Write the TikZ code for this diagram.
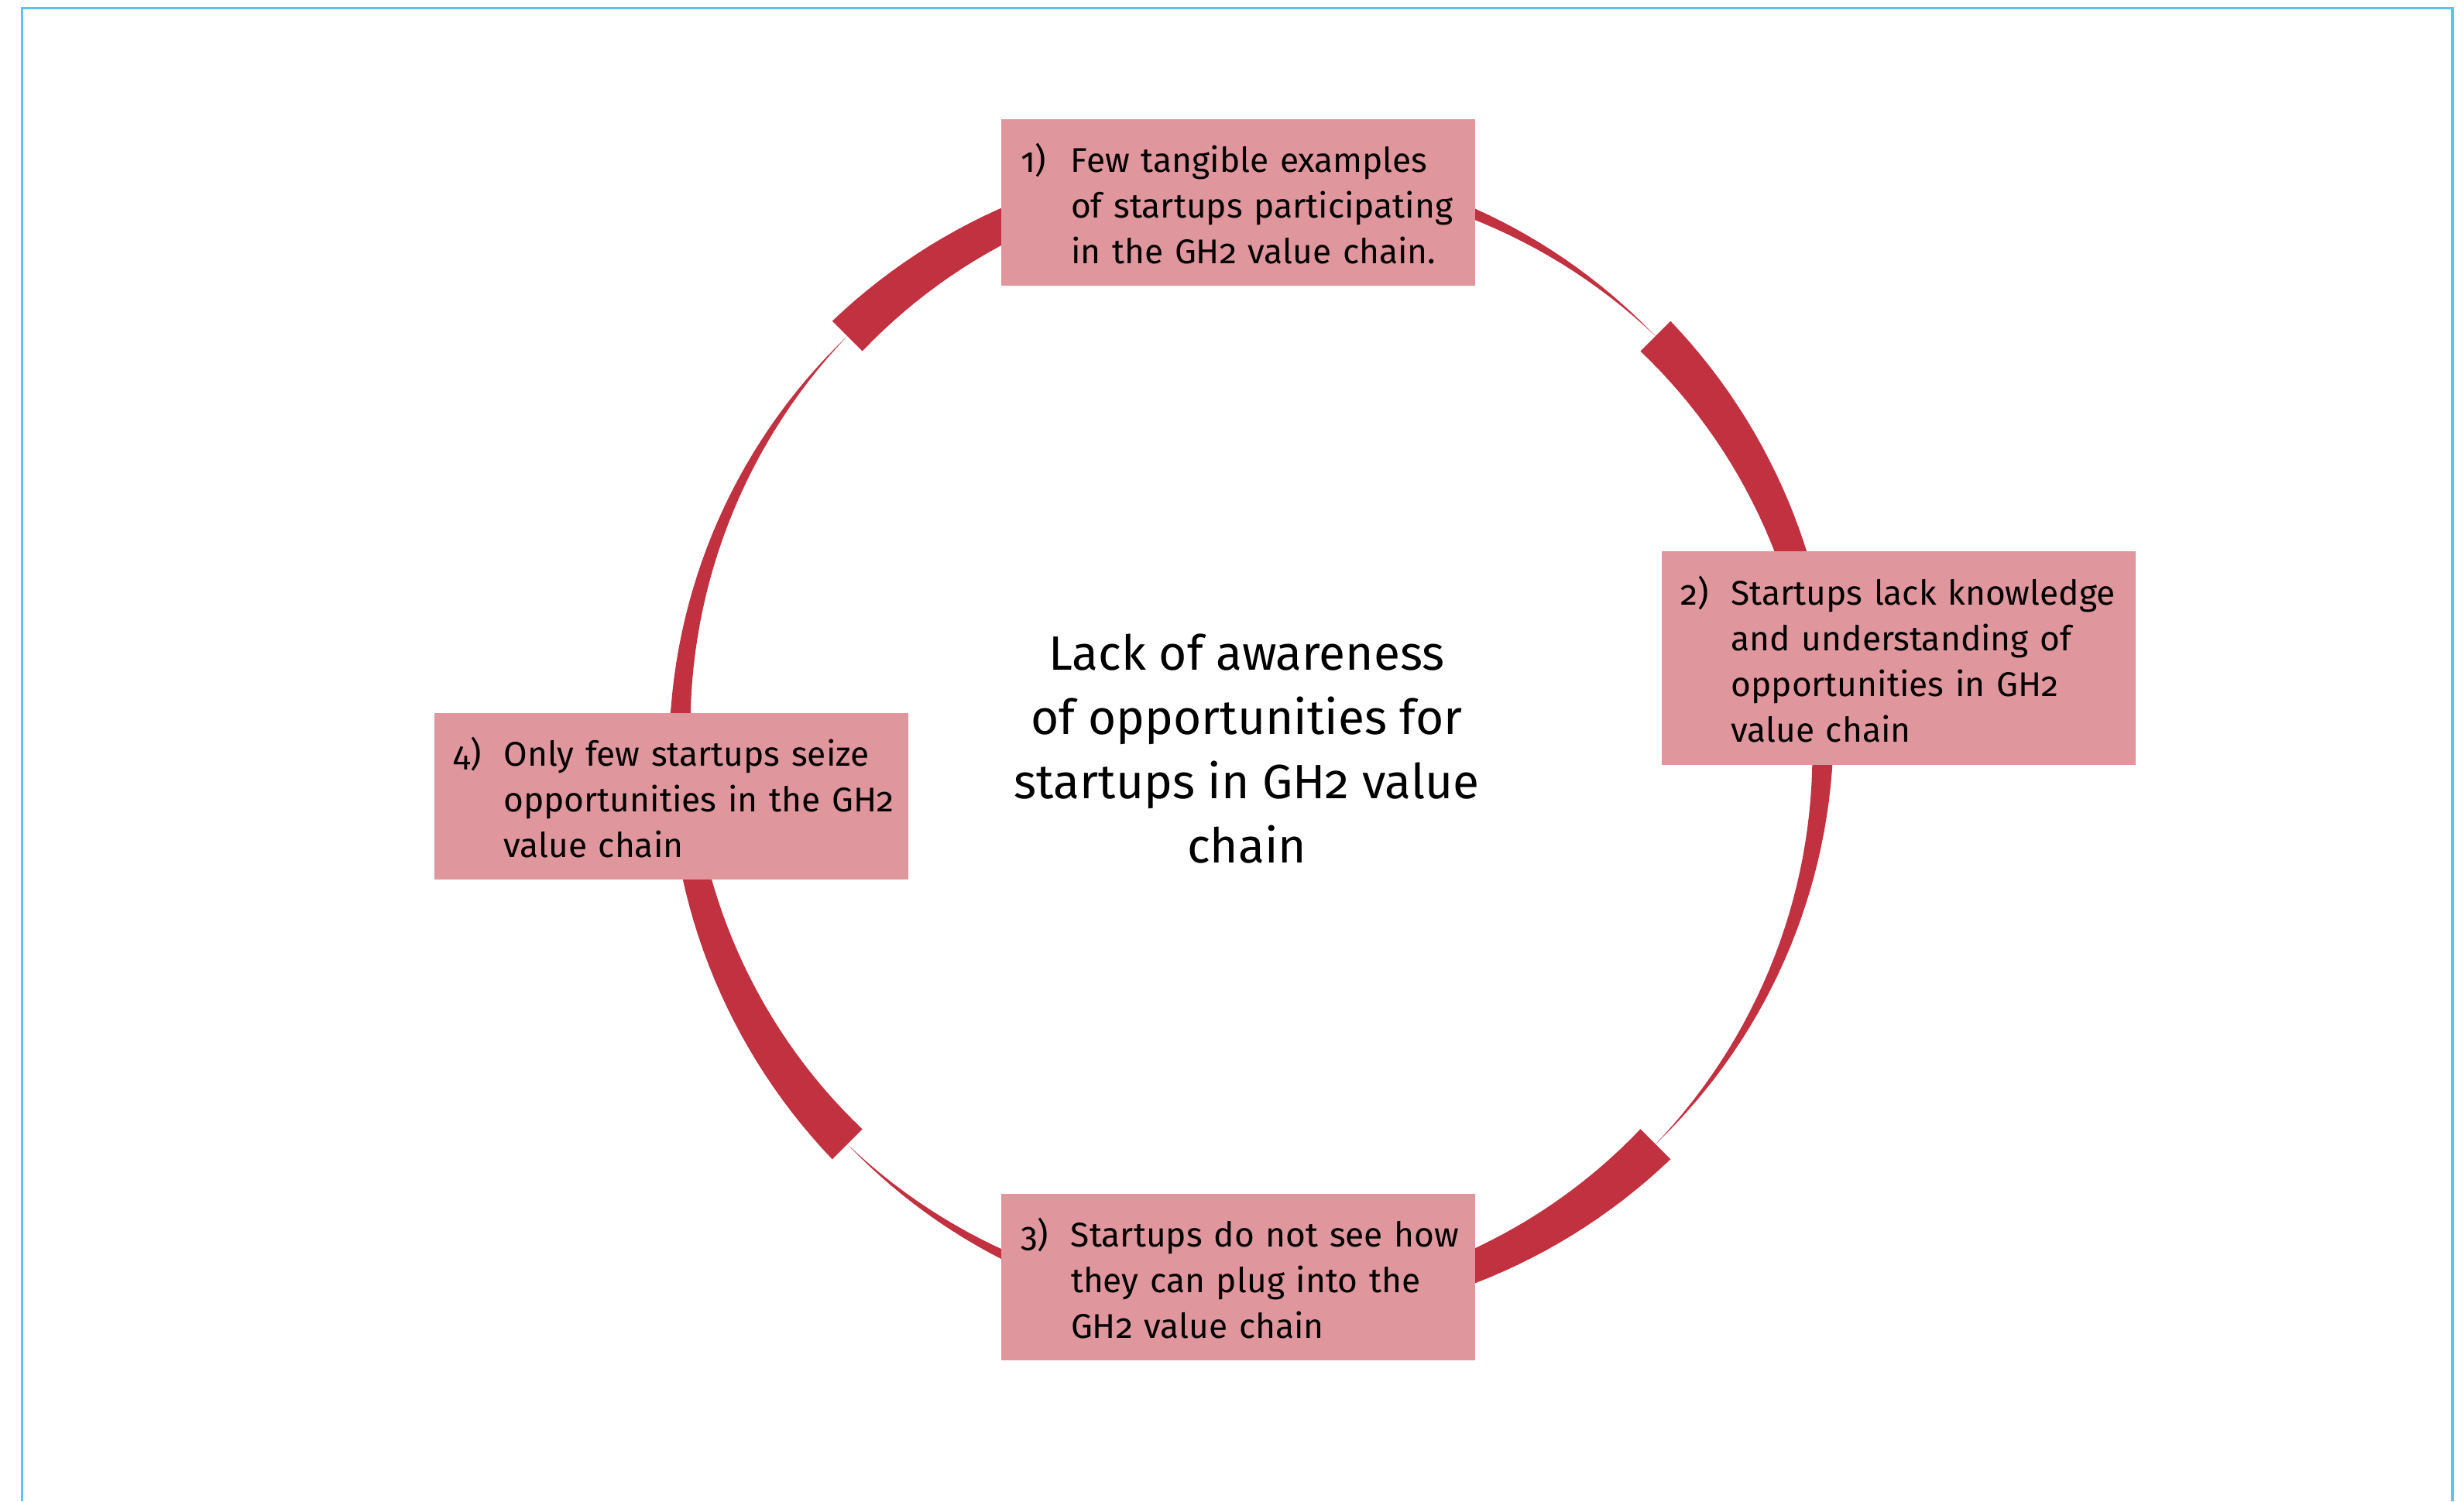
\documentclass[tikz,border=0pt]{standalone}
\usepackage{fontspec}
\setmainfont{Fira Sans}[Numbers=OldStyle]
\usepackage{xcolor}
\usepackage{tikz}
\definecolor{ringred}{RGB}{193,49,64}
\definecolor{boxpink}{RGB}{223,150,156}
\definecolor{framecyan}{RGB}{91,197,242}
\newcommand{\numbered}[2]{\begin{tabular}{@{}p{0.65cm}@{}l@{}}\rule{0pt}{16.3pt}#1 & #2\end{tabular}}

\begin{document}
\begin{tikzpicture}[
    box/.style={fill=boxpink,minimum height=2.15cm,text width=5.62cm,inner xsep=0.25cm,
                inner ysep=0pt,align=left,font=\fontsize{12.6}{16.8}\selectfont},
    ring/.style={fill=ringred},
    hub/.style={align=center,font=\fontsize{17.7}{23.6}\selectfont}]
  \useasboundingbox (0,0) rectangle (31.82,19.39);
  \coordinate (o) at (16.16,9.83);

  % four tapering arcs, wide end at the cut, vanishing a quarter turn later
  \begin{scope}[shift={(o)}]
    \foreach \a in {135,45,-45,-135}
      \fill[ring] plot[domain=0:90,samples=61] ({\a-\x}:{7.38+0.275*(1-\x/90)})
        -- plot[domain=90:0,samples=61] ({\a-\x}:{7.38-0.275*(1-\x/90)}) -- cycle;
  \end{scope}

  \node[box] (a) at (15.99,16.775) {\numbered{1)}{Few tangible examples\\
    & of startups participating\\ & in the GH2 value chain.}};
  \node[box,minimum height=2.76cm] (b) at (24.515,10.89) {\numbered{2)}{Startups lack knowledge\\
    & and understanding of\\ & opportunities in GH2\\ & value chain}};
  \node[box] (c) at (15.99,2.895) {\numbered{3)}{Startups do not see how\\
    & they can plug into the\\ & GH2 value chain}};
  \node[box] (d) at (8.665,9.105) {\numbered{4)}{Only few startups seize\\
    & opportunities in the GH2\\ & value chain}};

  \node[hub] (mid) at (16.1,9.72) {Lack of awareness\\of opportunities for\\startups in GH2 value\\chain};

  \draw[framecyan,line width=0.9pt] (0.285,0) -- (0.285,19.285) -- (31.67,19.285) -- (31.67,0);
\end{tikzpicture}
\end{document}
